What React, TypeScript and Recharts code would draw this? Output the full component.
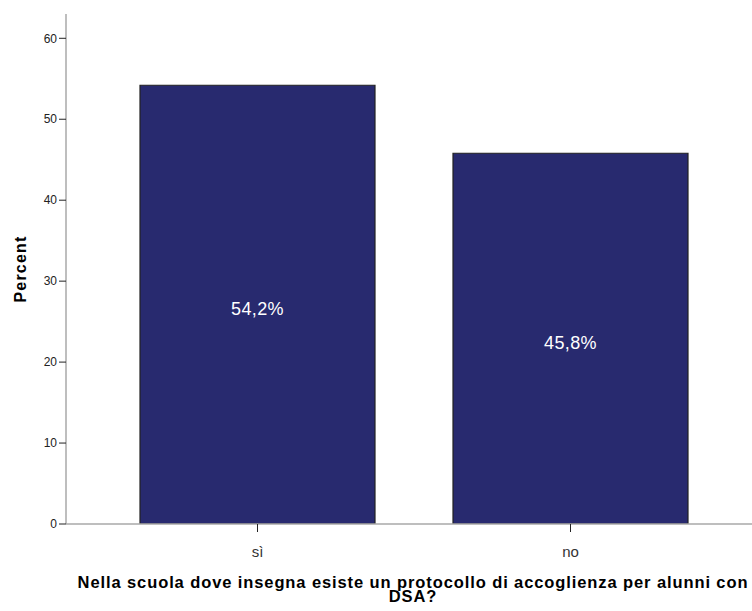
import React from 'react';
import { BarChart, Bar, XAxis, YAxis, LabelList } from 'recharts';

const categories = ['sì', 'no'];
const percents = [54.2, 45.8];
const yTicks = [0, 10, 20, 30, 40, 50, 60];

const data = categories.map((name, i) => ({ name, percent: percents[i] }));

const font = 'Arial, "Liberation Sans", sans-serif';

const App: React.FC = () => {
  return (
    <div style={{ position: 'absolute', left: 0, top: 0, width: 752, height: 611, background: '#fff', fontFamily: font }}>
      <BarChart width={752} height={611} data={data} margin={{ top: 14, right: 0, left: 0, bottom: 57 }}>
        <XAxis
          dataKey="name"
          height={30}
          padding={{ left: 35, right: 25 }}
          axisLine={{ stroke: '#a8a8a8', strokeWidth: 1.5 }}
          tickLine={{ stroke: '#222' }}
          tickSize={8}
          tickMargin={14}
          tick={{ fill: '#333', fontSize: 15, fontFamily: font }}
        />
        <YAxis
          width={66}
          domain={[0, 63]}
          ticks={yTicks}
          allowDataOverflow
          axisLine={{ stroke: '#a8a8a8', strokeWidth: 1.5 }}
          tickLine={{ stroke: '#222' }}
          tickSize={7}
          tickMargin={2}
          tick={{ fill: '#222', fontSize: 12, fontFamily: font }}
          label={{ value: 'Percent', angle: -90, position: 'insideLeft', offset: 20, style: { fill: '#000', fontSize: 16, fontWeight: 'bold', letterSpacing: 1.2, fontFamily: font, textAnchor: 'middle' } }}
        />
        <Bar dataKey="percent" fill="#282a6f" stroke="#222" strokeWidth={1.2} barSize={235} isAnimationActive={false}>
          <LabelList
            dataKey="percent"
            position="center"
            formatter={(v: number) => `${v.toFixed(1).replace('.', ',')}%`}
            style={{ fill: '#fff', fontSize: 18, fontFamily: font, letterSpacing: 0.4 }}
            dy={4}
          />
        </Bar>
      </BarChart>
      <div
        style={{
          position: 'absolute',
          left: 70,
          width: 686,
          top: 575,
          textAlign: 'center',
          fontWeight: 'bold',
          fontSize: 16.5,
          letterSpacing: 0.9,
          lineHeight: '14px',
          color: '#000',
          whiteSpace: 'nowrap',
        }}
      >
        Nella scuola dove insegna esiste un protocollo di accoglienza per alunni con
        <br />
        DSA?
      </div>
    </div>
  );
};

export default App;
